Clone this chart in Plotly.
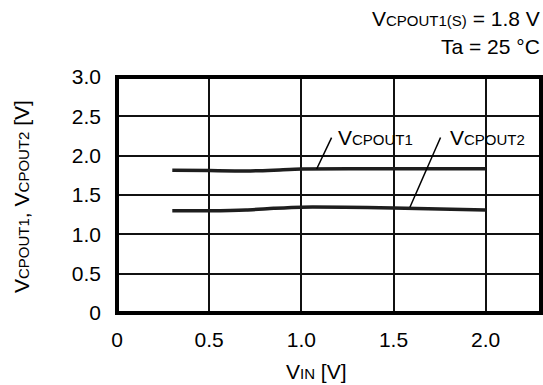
import plotly.graph_objects as go

# Input voltage sweep [V]
vin = [0.3, 0.5, 0.7, 0.85, 1.0, 1.5, 2.0]
# Output voltages [V]
vcpout1 = [1.815, 1.81, 1.805, 1.815, 1.83, 1.835, 1.835]
vcpout2 = [1.30, 1.30, 1.31, 1.33, 1.345, 1.335, 1.31]

# Leader lines from the curve labels down to the curves (x, y pairs)
leader1_x = [1.083, 1.164]
leader1_y = [1.83, 2.23]
leader2_x = [1.589, 1.755]
leader2_y = [1.345, 2.23]

x_ticks = [0, 0.5, 1.0, 1.5, 2.0]
x_labels = ["0", "0.5", "1.0", "1.5", "2.0"]
y_ticks = [0, 0.5, 1.0, 1.5, 2.0, 2.5, 3.0]
y_labels = ["0", "0.5", "1.0", "1.5", "2.0", "2.5", "3.0"]

FONT = "Arial, Liberation Sans, sans-serif"
FS = 21
SUB = "font-size:15px"


def vlabel(sub):
    return f"V<span style='{SUB}'>{sub}</span>"


fig = go.Figure()
for ys in (vcpout1, vcpout2):
    fig.add_trace(go.Scatter(x=vin, y=ys, mode="lines",
                             line=dict(color="#1e1e1e", width=3.5, shape="spline", smoothing=0.6),
                             hoverinfo="skip", showlegend=False))
for lx, ly in ((leader1_x, leader1_y), (leader2_x, leader2_y)):
    fig.add_trace(go.Scatter(x=lx, y=ly, mode="lines",
                             line=dict(color="#000", width=1.5),
                             hoverinfo="skip", showlegend=False))

axis_common = dict(showgrid=True, gridcolor="#111", gridwidth=1.6, zeroline=False,
                   showline=False, ticks="", tickfont=dict(family=FONT, size=FS, color="#000"))
fig.update_xaxes(range=[0, 2.3], tickvals=x_ticks, ticktext=x_labels,
                 ticklabelstandoff=12, **axis_common)
fig.update_yaxes(range=[0, 3.0], tickvals=y_ticks, ticktext=y_labels,
                 ticklabelstandoff=15, **axis_common)

font = dict(family=FONT, size=FS, color="#000")
annotations = [
    dict(x=1.19, y=2.23, xref="x", yref="y", text=vlabel("CPOUT1"), showarrow=False,
         xanchor="left", yanchor="middle", font=font),
    dict(x=1.795, y=2.23, xref="x", yref="y", text=vlabel("CPOUT2"), showarrow=False,
         xanchor="left", yanchor="middle", font=font),
    dict(x=542, y=385 - 18, xref="paper", yref="paper", text=vlabel("CPOUT1(S)") + " = 1.8 V",
         showarrow=False, xanchor="right", yanchor="middle", font=font),
    dict(x=542, y=385 - 47, xref="paper", yref="paper", text="Ta = 25 °C",
         showarrow=False, xanchor="right", yanchor="middle", font=font),
    dict(x=316, y=385 - 371, xref="paper", yref="paper", text=vlabel("IN") + " [V]",
         showarrow=False, xanchor="center", yanchor="middle", font=font),
    dict(x=21, y=385 - 197, xref="paper", yref="paper",
         text=vlabel("CPOUT1") + ", " + vlabel("CPOUT2") + " [V]",
         showarrow=False, xanchor="center", yanchor="middle", textangle=-90, font=font),
]

# Convert pixel-positioned annotations into paper fractions
L, R, T, B = 117, 2, 77, 72
W, H = 543, 385
pw, ph = W - L - R, H - T - B
for a in annotations:
    if a["xref"] == "paper":
        a["x"] = (a["x"] - L) / pw
        a["y"] = (a["y"] - B) / ph

fig.update_layout(
    width=W, height=H,
    margin=dict(l=L, r=R, t=T, b=B),
    plot_bgcolor="white", paper_bgcolor="white",
    annotations=annotations,
    shapes=[dict(type="rect", xref="paper", yref="paper", x0=0, y0=0, x1=1, y1=1,
                 line=dict(color="#000", width=4), layer="above")],
)

fig.write_html("out.html")
